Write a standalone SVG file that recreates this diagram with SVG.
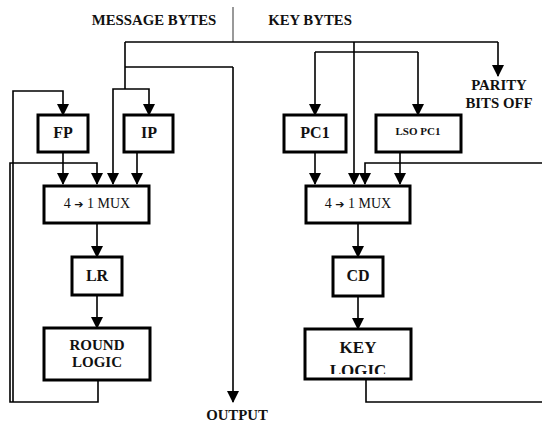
<svg xmlns="http://www.w3.org/2000/svg" width="542" height="423" viewBox="0 0 542 423">
<style>
.bx{fill:#fff;stroke:#000;stroke-width:3}
.ln{fill:none;stroke:#000;stroke-width:1.6}
.ar{fill:none;stroke:#000;stroke-width:1.6;marker-end:url(#ah)}
.t{font-family:"Liberation Serif","Times New Roman",serif;font-weight:bold;fill:#111;text-anchor:middle}
.lb{font-size:14.8px}
.bl{font-size:16px}
.mx{font-size:14px;font-weight:normal}
.arw{font-family:"DejaVu Sans",sans-serif;font-size:11px}
</style>
<defs>
<marker id="ah" markerWidth="12" markerHeight="12" viewBox="0 0 12 12" refX="11" refY="6" orient="auto" markerUnits="userSpaceOnUse">
<path d="M0,0 L12,6 L0,12 Z" fill="#000"/>
</marker>
<clipPath id="kc"><rect x="306" y="330" width="104" height="44"/></clipPath>
</defs>
<rect width="542" height="423" fill="#fff"/>
<g id="labels">
<text class="t lb" x="154" y="25">MESSAGE BYTES</text>
<text class="t lb" x="310" y="25">KEY BYTES</text>
<text class="t lb" x="499" y="90">PARITY</text>
<text class="t lb" x="499" y="108">BITS OFF</text>
<text class="t lb" x="237" y="420">OUTPUT</text>
</g>
<g id="connectors">
<path d="M233,7 V42" stroke="#555" stroke-width="1.2" fill="none"/>
<path class="ln" d="M125,42 H498"/>
<path class="ar" d="M498,42 V76"/>
<path class="ar" d="M233,67 H125 M233,67 V402"/>
<path class="ln" d="M125,42 V89"/>
<path class="ar" d="M125,89 H113 V184"/>
<path class="ar" d="M125,89 H149 V115"/>
<path class="ar" d="M63,152 V184"/>
<path class="ar" d="M137,152 V184"/>
<path class="ar" d="M13,402 V91 H63 V115"/>
<path class="ar" d="M98,380 V402 H10 V163 H97 V184"/>
<path class="ar" d="M97,223 V257"/>
<path class="ar" d="M97,295 V328"/>
<path class="ar" d="M354,42 V184"/>
<path class="ln" d="M315,52 H418"/>
<path class="ar" d="M315,52 V115"/>
<path class="ar" d="M418,52 V115"/>
<path class="ar" d="M315,152 V184"/>
<path class="ar" d="M400,152 V184"/>
<path class="ar" d="M542,163 H365 V184"/>
<path class="ar" d="M358,223 V257"/>
<path class="ar" d="M358,296 V329"/>
<path class="ln" d="M366,379 V402 H542"/>
</g>
<g id="fp"><rect class="bx" x="38" y="115" width="50" height="37"/><text class="t bl" x="63" y="138">FP</text></g>
<g id="ip"><rect class="bx" x="124" y="115" width="49" height="37"/><text class="t bl" x="149" y="138">IP</text></g>
<g id="mux1"><rect class="bx" x="44" y="186" width="105" height="37"/><text class="t mx" x="97" y="208">4 <tspan class="arw">➔</tspan> 1 MUX</text></g>
<g id="lr"><rect class="bx" x="72" y="257" width="50" height="38"/><text class="t bl" x="97" y="281">LR</text></g>
<g id="round"><rect class="bx" x="44" y="328" width="106" height="52"/><text class="t" style="font-size:15px" x="97" y="350">ROUND</text><text class="t" style="font-size:15px" x="97" y="367">LOGIC</text></g>
<g id="pc1"><rect class="bx" x="284" y="115" width="62" height="37"/><text class="t bl" x="315" y="138">PC1</text></g>
<g id="lsopc1"><rect class="bx" x="376" y="115" width="85" height="37"/><text class="t" style="font-size:11px" x="418" y="135">LSO PC1</text></g>
<g id="mux2"><rect class="bx" x="306" y="186" width="104" height="37"/><text class="t mx" x="358" y="208">4 <tspan class="arw">➔</tspan> 1 MUX</text></g>
<g id="cd"><rect class="bx" x="333" y="257" width="50" height="39"/><text class="t bl" x="358" y="281">CD</text></g>
<g id="keylogic"><rect class="bx" x="305" y="329" width="106" height="50"/><text class="t" style="font-size:17px" x="358" y="353">KEY</text><text class="t" style="font-size:17px" x="358" y="376" clip-path="url(#kc)">LOGIC</text></g>
</svg>
